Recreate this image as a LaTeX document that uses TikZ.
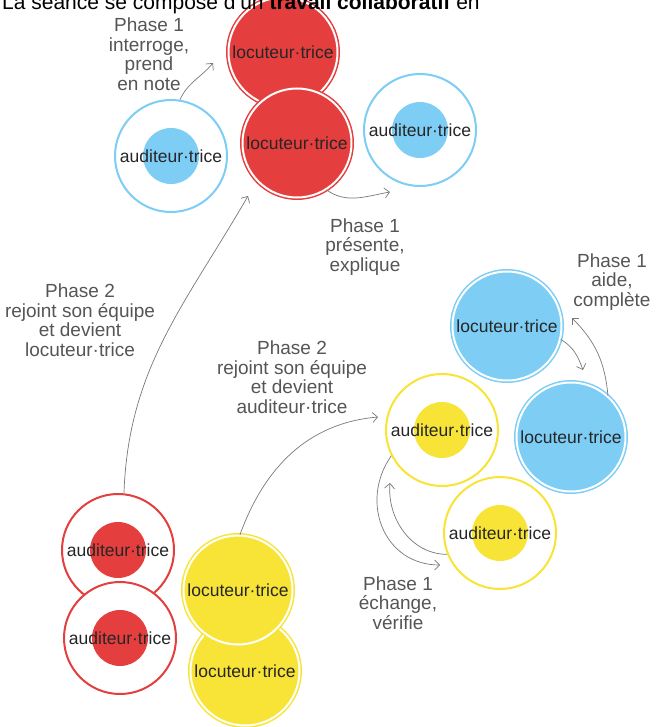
\documentclass[tikz,border=0pt]{standalone}
\usepackage{fontspec}
\setmainfont{Liberation Sans}
\usetikzlibrary{arrows.meta}
\definecolor{redc}{RGB}{229,62,62}
\definecolor{bluec}{RGB}{125,205,245}
\definecolor{yellowc}{RGB}{248,228,55}
\definecolor{notegray}{RGB}{85,85,85}
\definecolor{linegray}{RGB}{120,120,120}
\newcommand\locsize{109pt}
\newcommand\audsize{112pt}
\newcommand\dotrad{28pt}
\newcommand\labfont{\fontsize{17.5}{19}\selectfont}
\newcommand\notefont{\fontsize{19}{19.5}\selectfont}

\begin{document}
\begin{tikzpicture}[
x=1pt,y=1pt,
loc/.style={circle,inner sep=0pt,minimum size=\locsize,fill=#1,draw=#1,line width=1.5pt,double=white,double distance=2pt,font=\labfont,text=black!85},
aud/.style={circle,inner sep=0pt,minimum size=\audsize,fill=white,draw=#1,line width=2pt,font=\labfont,text=black!85,
  path picture={\fill[#1] (path picture bounding box.center) circle (\dotrad);}},
note/.style={align=center,font=\notefont,text=notegray},
link/.style={draw=linegray,line width=0.7pt,-{Straight Barb[length=5pt,width=10pt]}}
]
\useasboundingbox (0,0) rectangle (663,-727);

% groupe rouge, en haut
\node[aud=bluec] (audga) at (171,-156) {auditeur·trice};
\node[loc=redc] (loca) at (283,-52) {locuteur·trice};
\node[loc=redc] (locb) at (297,-143) {locuteur·trice};
\node[aud=bluec] (audda) at (420,-130) {auditeur·trice};

% groupe bleu / jaune, a droite
\node[loc=bluec] (locbh) at (507,-326) {locuteur·trice};
\node[loc=bluec] (locbb) at (571,-437) {locuteur·trice};
\node[aud=yellowc] (audjh) at (442,-430) {auditeur·trice};
\node[aud=yellowc] (audjb) at (500,-533) {auditeur·trice};

% en bas
\node[aud=redc] (audra) at (118,-550) {auditeur·trice};
\node[aud=redc] (audrb) at (120,-638) {auditeur·trice};
\node[loc=yellowc] (locjb) at (245,-671) {locuteur·trice};
\node[loc=yellowc] (locjh) at (238,-590) {locuteur·trice};

% textes
\node[anchor=base west,inner sep=0pt,font=\fontsize{21}{24}\selectfont] (titre) at (2,-10)
  {La séance se compose d'un \textbf{travail collaboratif} en};
\node[note] (n1) at (149,-54) {Phase 1\\interroge,\\prend\\en note};
\node[note] (n2) at (365,-247) {Phase 1\\présente,\\explique};
\node[note] (n3) at (80,-320) {Phase 2\\rejoint son équipe\\et devient\\locuteur·trice};
\node[note] (n4) at (292,-377) {Phase 2\\rejoint son équipe\\et devient\\auditeur·trice};
\node[note] (n5) at (612,-282) {Phase 1\\aide,\\complète};
\node[note] (n6) at (398,-603) {Phase 1\\échange,\\vérifie};

% fleches
\coordinate (p1) at (213,-63);
\coordinate (p2) at (390,-192);
\coordinate (p3) at (248,-196);
\coordinate (p4) at (378,-417);
\coordinate (p5) at (583,-370);
\coordinate (p6) at (572,-318);
\coordinate (p7) at (440,-565);
\coordinate (p8) at (390,-483);
\draw[link] (audga.81) to[out=65,in=230] (p1);
\draw[link] (locb.-58) to[out=-35,in=190] (p2);
\draw[link] (audra.84) to[out=88,in=240] (p3);
\draw[link] (locjh.88) to[out=70,in=185] (p4);
\draw[link] (locbh.-14) to[out=-30,in=110] (p5);
\draw[link] (locbb.48) to[out=95,in=-45] (p6);
\draw[link] (audjh.207) to[out=235,in=180,looseness=1.2] (p7);
\draw[link] (audjb.202) to[out=180,in=-95] (p8);
\end{tikzpicture}
\end{document}
